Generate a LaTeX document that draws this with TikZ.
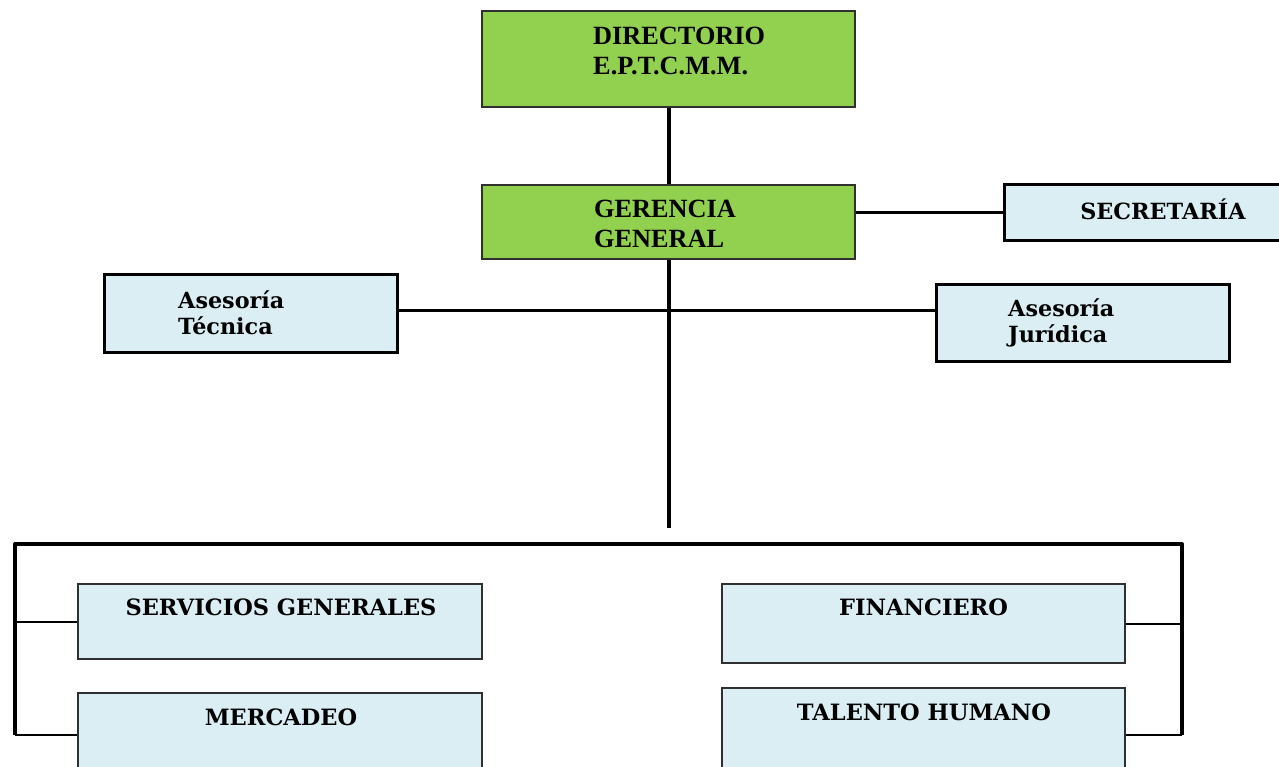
\documentclass[tikz,border=0pt]{standalone}
\usepackage{fontspec}
\setmainfont{Liberation Serif}
\newfontfamily\bkfont{DejaVu Serif}
\definecolor{grn}{HTML}{92D050}
\definecolor{lblue}{HTML}{DAEEF3}
\definecolor{edge}{HTML}{303030}
\begin{document}
\begin{tikzpicture}[x=1pt,y=-1pt,
  gbox/.style={draw=edge,fill=grn,line width=2pt,inner sep=0pt},
  abox/.style={draw=black,fill=lblue,line width=3pt,inner sep=0pt},
  lbox/.style={draw=edge,fill=lblue,line width=2pt,inner sep=0pt},
  toptxt/.style={font=\fontsize{26.3}{30}\selectfont\bfseries,align=left,anchor=west,inner sep=0pt},
  midtxt/.style={font=\bkfont\fontsize{22.3}{26}\selectfont\bfseries,align=left,inner sep=0pt},
  lowtxt/.style={font=\bkfont\fontsize{22.5}{26}\selectfont\bfseries,inner sep=0pt},
  mainline/.style={line width=4pt,line cap=butt},
  medline/.style={line width=3pt},
  thinline/.style={line width=2pt}]
\clip (0,0) rectangle (1279,766);
\fill[white] (0,0) rectangle (1279,766);
% boxes
\node[gbox,minimum width=373pt,minimum height=96pt] (dir) at (668.5,59) {};
\node[gbox,minimum width=373pt,minimum height=74pt] (ger) at (668.5,222) {};
\node[abox,minimum width=290pt,minimum height=56pt] (sec) at (1149,212) {};
\node[abox,minimum width=293pt,minimum height=78pt] (at) at (250.5,313) {};
\node[abox,minimum width=293pt,minimum height=77pt] (aj) at (1082.5,322.5) {};
\node[lbox,minimum width=404pt,minimum height=75pt] (sg) at (280,621.5) {};
\node[lbox,minimum width=404pt,minimum height=120pt] (mk) at (280,753) {};
\node[lbox,minimum width=403pt,minimum height=79pt] (fi) at (923.5,623.5) {};
\node[lbox,minimum width=403pt,minimum height=120pt] (th) at (923.5,748) {};
% texts
\node[toptxt] (tdir) at (593,51) {DIRECTORIO\\[-0.5pt]E.P.T.C.M.M.};
\node[toptxt] (tger) at (594,224) {GERENCIA\\GENERAL};
\node[midtxt,anchor=center] (tsec) at (1163,209) {SECRETARÍA};
\node[midtxt,anchor=west] (tat) at (178,313) {Asesoría\\Técnica};
\node[midtxt,anchor=west] (taj) at (1008,323) {Asesoría\\Jurídica};
\node[lowtxt] (tsg) at (281,607) {SERVICIOS GENERALES};
\node[lowtxt] (tmk) at (281,717) {MERCADEO};
\node[lowtxt] (tfi) at (923.5,607) {FINANCIERO};
\node[lowtxt] (tth) at (924,712) {TALENTO HUMANO};
% connectors
\coordinate (hub) at (668.5,310);
\coordinate (vend) at (668.5,528);
\coordinate (tl) at (15,544);
\coordinate (tr) at (1182,544);
\coordinate (bl) at (15,735);
\coordinate (br) at (1182,735);
\draw[mainline] (dir.south) -- (ger.north);
\draw[mainline] (ger.south) -- (ger.south |- vend);
\draw[medline] (sec.west) -- (sec.west -| ger.east);
\draw[medline] (hub -| at.east) -- (hub -| aj.west);
\draw[mainline,line join=round] (bl) -- (tl) -- (tr) -- (br);
\draw[thinline] (sg.west) -- (sg.west -| tl);
\draw[thinline] (bl) -- (bl -| mk.west);
\draw[thinline] (fi.east) -- (fi.east -| tr);
\draw[thinline] (br) -- (br -| th.east);
\end{tikzpicture}
\end{document}
